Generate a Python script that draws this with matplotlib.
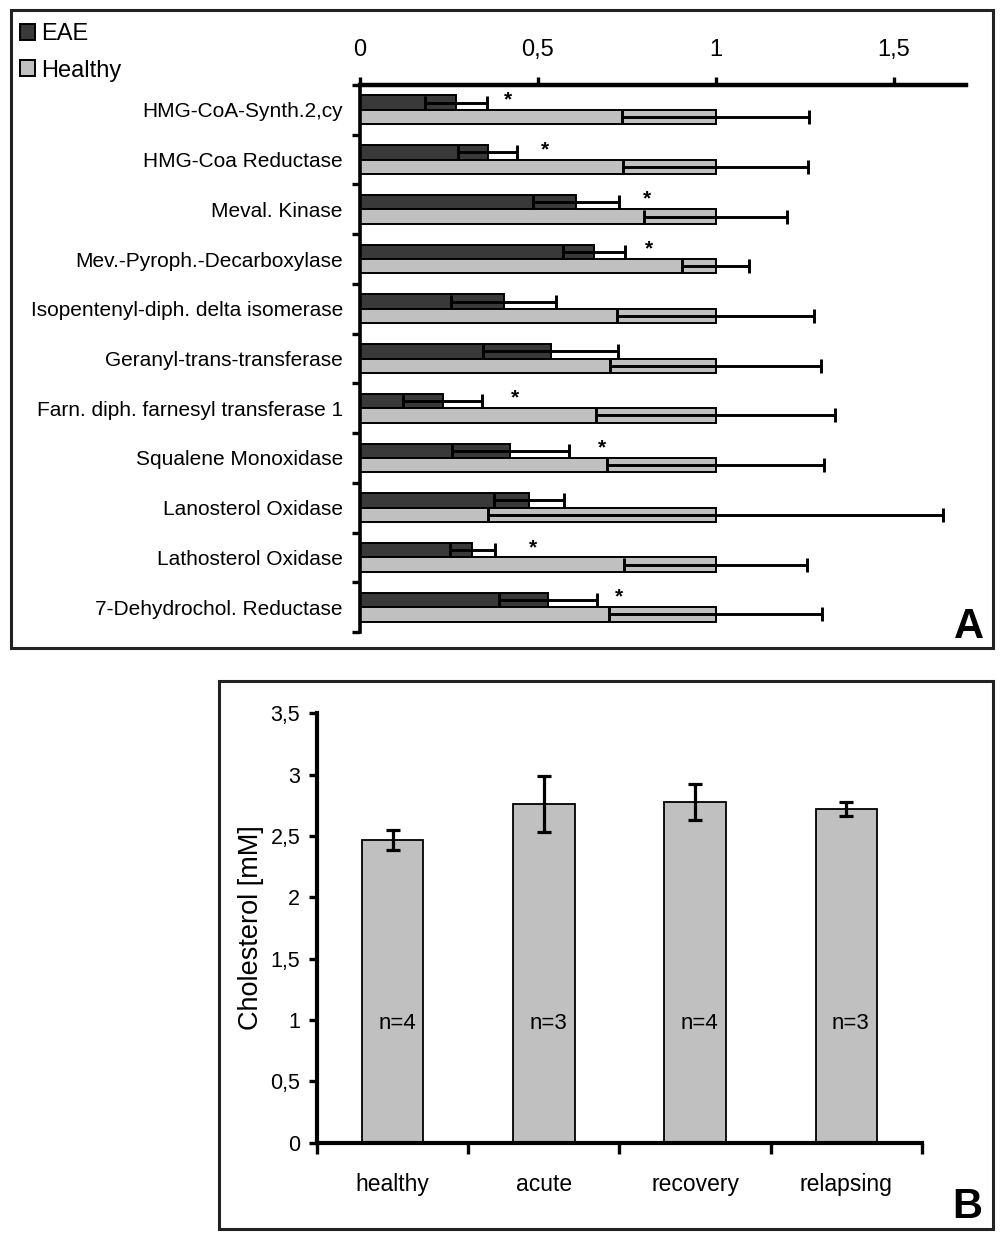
import matplotlib
matplotlib.use("Agg")
import matplotlib.pyplot as plt
from matplotlib.patches import Rectangle
import numpy as np

plt.rcParams['font.family'] = ['Liberation Sans', 'DejaVu Sans']

# ---------------- data: panel A ----------------
enzymes = ["HMG-CoA-Synth.2,cy", "HMG-Coa Reductase", "Meval. Kinase",
           "Mev.-Pyroph.-Decarboxylase", "Isopentenyl-diph. delta isomerase",
           "Geranyl-trans-transferase", "Farn. diph. farnesyl transferase 1",
           "Squalene Monoxidase", "Lanosterol Oxidase", "Lathosterol Oxidase",
           "7-Dehydrochol. Reductase"]
eae_vals = [0.271, 0.360, 0.608, 0.659, 0.405, 0.537, 0.234, 0.424, 0.477, 0.317, 0.530]
eae_err = [0.086, 0.083, 0.120, 0.087, 0.148, 0.190, 0.111, 0.164, 0.098, 0.064, 0.137]
healthy_vals = [1.0] * 11
healthy_err = [0.263, 0.260, 0.200, 0.093, 0.278, 0.296, 0.335, 0.304, 0.640, 0.257, 0.300]
signif = [True, True, True, True, False, False, True, True, False, True, True]
star_x = [0.418, 0.521, 0.808, 0.814, None, None, 0.437, 0.681, None, 0.486, 0.728]
a_ticks = [0, 0.5, 1, 1.5]
a_ticklabels = ["0", "0,5", "1", "1,5"]

# ---------------- data: panel B ----------------
groups = ["healthy", "acute", "recovery", "relapsing"]
chol = [2.467, 2.758, 2.779, 2.720]
chol_err = [0.082, 0.227, 0.147, 0.054]
n_labels = ["n=4", "n=3", "n=4", "n=3"]
b_ticks = [0, 0.5, 1, 1.5, 2, 2.5, 3, 3.5]
b_ticklabels = ["0", "0,5", "1", "1,5", "2", "2,5", "3", "3,5"]

W, H = 1004, 1239
fig = plt.figure(figsize=(W / 100, H / 100), dpi=100)

def fx(px):
    return px / W

def fy(py):
    return 1 - py / H

dark = "#393939"
light = "#c0c0c0"

# ---------------- panel A ----------------
axA = fig.add_axes([fx(359.5), fy(632), fx(966.5) - fx(359.5), fy(85) - fy(632)])
n = len(enzymes)
yc = np.arange(n) + 0.5
bh = 0.29
axA.barh(yc - bh / 2, eae_vals, height=bh, color=dark, edgecolor="black",
         linewidth=1.4, label="EAE", zorder=2)
axA.barh(yc + bh / 2, healthy_vals, height=bh, color=light, edgecolor="black",
         linewidth=1.4, label="Healthy", zorder=2)
axA.errorbar(eae_vals, yc - bh / 2, xerr=eae_err, fmt="none", ecolor="black",
             elinewidth=2.1, capsize=4.8, capthick=2.1, zorder=3)
axA.errorbar(healthy_vals, yc + bh / 2, xerr=healthy_err, fmt="none", ecolor="black",
             elinewidth=2.1, capsize=4.8, capthick=2.1, zorder=3)
for i, s in enumerate(signif):
    if s:
        axA.text(star_x[i], yc[i] - 0.2, "*", ha="center", va="center",
                 fontsize=15, fontweight="bold", zorder=4)

axA.set_xlim(0, 1.705)
axA.set_ylim(n, 0)
axA.xaxis.tick_top()
axA.set_xticks(a_ticks)
axA.set_xticklabels(a_ticklabels, fontsize=17)
axA.tick_params(axis="x", which="major", direction="out", length=6, width=2.4, pad=11.5)
axA.set_yticks(np.arange(n + 1))
axA.set_yticklabels([])
axA.set_yticks(yc, minor=True)
axA.set_yticklabels(enzymes, minor=True, fontsize=15)
axA.tick_params(axis="y", which="major", direction="out", length=6, width=2.4)
axA.tick_params(axis="y", which="minor", length=0, pad=12)
for side in ["right", "bottom"]:
    axA.spines[side].set_visible(False)
axA.spines["top"].set_linewidth(3.2)
axA.spines["left"].set_linewidth(2.6)
axA.set_facecolor("none")

fig.legend(handles=axA.containers[:2], labels=["EAE", "Healthy"],
           loc="upper left", bbox_to_anchor=(fx(20), fy(23)),
           frameon=False, fontsize=17, handlelength=0.65, handleheight=0.65,
           handletextpad=0.25, labelspacing=0.62, borderpad=0, borderaxespad=0)

fig.text(fx(969), fy(627), "A", fontsize=30, fontweight="bold", ha="center", va="center")

# ---------------- panel B ----------------
axB = fig.add_axes([fx(317), fy(1142.7), fx(922) - fx(317), fy(713.3) - fy(1142.7)])
xb = np.arange(len(groups))
axB.bar(xb, chol, width=0.405, color=light, edgecolor="black", linewidth=1.3, zorder=2)
axB.errorbar(xb, chol, yerr=chol_err, fmt="none", ecolor="black",
             elinewidth=2.3, capsize=4.8, capthick=2.3, zorder=3)
for i, t in enumerate(n_labels):
    axB.text(xb[i] + 0.03, 0.97, t, ha="center", va="center", fontsize=16)
axB.set_xlim(-0.5, len(groups) - 0.5)
axB.set_ylim(0, 3.5)
axB.set_yticks(b_ticks)
axB.set_yticklabels(b_ticklabels, fontsize=15.5)
axB.tick_params(axis="y", direction="out", length=6, width=2.4, pad=6)
axB.set_xticks(np.arange(len(groups) + 1) - 0.5)
axB.set_xticklabels([])
axB.set_xticks(xb, minor=True)
axB.set_xticklabels(groups, minor=True, fontsize=16.5)
axB.tick_params(axis="x", which="major", direction="out", length=8, width=2.4)
axB.tick_params(axis="x", which="minor", length=0, pad=22)
axB.set_ylabel("Cholesterol [mM]", fontsize=19.5, labelpad=5)
for side in ["right", "top"]:
    axB.spines[side].set_visible(False)
axB.spines["left"].set_linewidth(3.0)
axB.spines["bottom"].set_linewidth(3.0)
axB.set_facecolor("none")

fig.text(fx(967), fy(1207), "B", fontsize=30, fontweight="bold", ha="center", va="center")

# ---------------- panel frames ----------------
fig.patches.append(Rectangle((fx(11), fy(648)), fx(993) - fx(11), fy(10) - fy(648),
                             transform=fig.transFigure, fill=False,
                             edgecolor="#222222", linewidth=2.2))
fig.patches.append(Rectangle((fx(219), fy(1229)), fx(993) - fx(219), fy(681) - fy(1229),
                             transform=fig.transFigure, fill=False,
                             edgecolor="#222222", linewidth=2.2))

fig.savefig("out.png", dpi=100)
